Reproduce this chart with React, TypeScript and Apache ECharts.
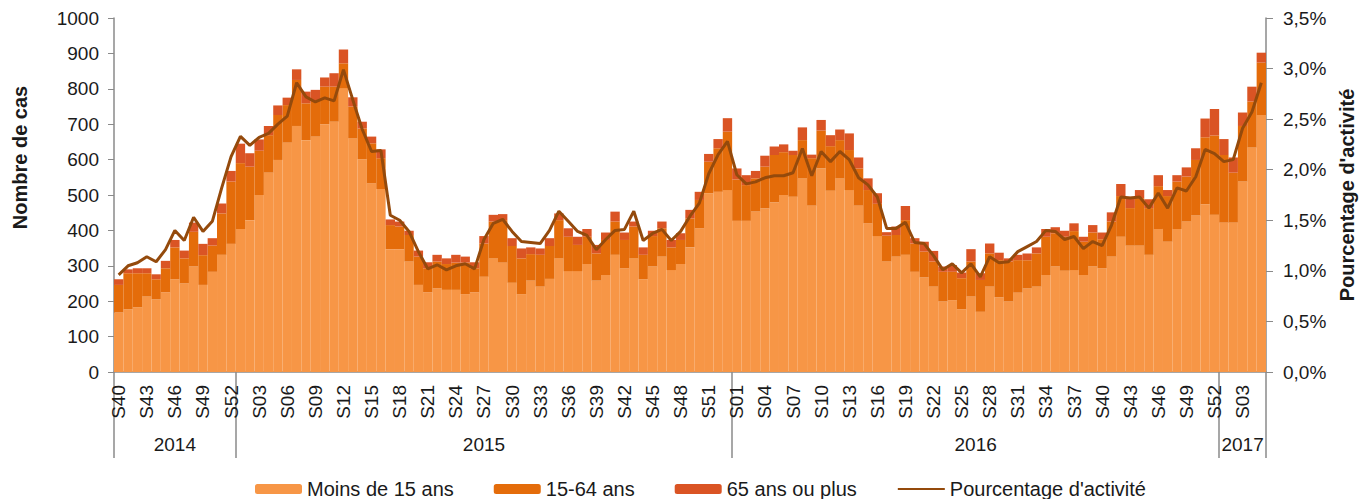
import { useEffect, useRef } from "react";
import * as echarts from "echarts";

// ---- Data -----------------------------------------------------------------
const years = [2014, 2015, 2016, 2017];
const firstWeek = [40, 1, 1, 1];
const lastWeek = [52, 53, 52, 5];

const weekLabels: string[] = [];
years.forEach((_, i) => {
  for (let w = firstWeek[i]; w <= lastWeek[i]; w++) {
    weekLabels.push("S" + String(w).padStart(2, "0"));
  }
});

const moins15 = [
  168, 177, 183, 213, 205, 225, 262, 250, 298, 246, 283, 331, 362,
  404, 429, 500, 563, 599, 648, 695, 655, 665, 700, 707, 802, 660,
  601, 533, 517, 347, 347, 312, 246, 225, 236, 232, 232, 220, 225,
  269, 321, 309, 252, 220, 258, 241, 263, 321, 285, 285, 305, 258,
  274, 331, 293, 321, 262, 298, 326, 288, 305, 352, 406, 505, 509,
  514, 427, 427, 453, 462, 479, 500, 495, 547, 470, 575, 512, 547,
  514, 470, 420, 384, 312, 326, 331, 283, 267, 241, 199, 203, 177,
  213, 170, 241, 211, 199, 224, 236, 241, 274, 298, 286, 288, 274,
  298, 293, 326, 382, 357, 357, 331, 404, 368, 404, 425, 442, 474,
  444, 422, 422, 538, 634, 726,
];

const ans15a64 = [
  78, 102, 96, 66, 57, 68, 90, 71, 98, 84, 74, 117, 176,
  186, 151, 125, 106, 127, 106, 130, 104, 103, 106, 99, 70, 90,
  87, 113, 87, 68, 64, 75, 80, 68, 76, 73, 77, 89, 68,
  94, 104, 120, 104, 101, 75, 90, 93, 108, 97, 74, 77, 77,
  99, 94, 80, 90, 69, 86, 80, 64, 68, 82, 80, 89, 123,
  165, 117, 101, 94, 118, 134, 121, 118, 108, 134, 107, 126, 108,
  113, 105, 94, 91, 73, 61, 98, 80, 73, 71, 84, 80, 88,
  99, 90, 94, 105, 113, 92, 80, 94, 108, 94, 96, 110, 94,
  96, 82, 99, 115, 106, 134, 132, 121, 129, 134, 127, 157, 189,
  224, 191, 141, 157, 130, 148,
];

const ans65plus = [
  16, 11, 14, 14, 14, 21, 21, 22, 26, 32, 21, 28, 30,
  55, 38, 32, 26, 27, 21, 30, 33, 29, 26, 38, 39, 26,
  19, 19, 25, 16, 14, 12, 17, 17, 19, 16, 22, 17, 17,
  21, 19, 17, 22, 28, 19, 18, 22, 19, 24, 23, 22, 24,
  21, 28, 21, 14, 21, 15, 19, 21, 19, 24, 23, 22, 26,
  38, 31, 28, 21, 31, 24, 22, 12, 36, 10, 30, 31, 30,
  47, 31, 33, 30, 10, 24, 40, 15, 28, 30, 15, 19, 16,
  35, 19, 28, 21, 9, 15, 19, 17, 22, 17, 17, 22, 14,
  21, 19, 26, 34, 32, 23, 25, 31, 17, 18, 26, 33, 53,
  75, 45, 43, 38, 42, 28,
];

const pctActivite = [
  0.96, 1.05, 1.08, 1.14, 1.09, 1.21, 1.40, 1.30, 1.53, 1.39, 1.49, 1.82, 2.13,
  2.33, 2.24, 2.32, 2.36, 2.45, 2.53, 2.86, 2.72, 2.67, 2.71, 2.68, 2.99, 2.69,
  2.40, 2.18, 2.19, 1.55, 1.50, 1.39, 1.19, 1.02, 1.06, 1.01, 1.05, 1.07, 1.02,
  1.31, 1.47, 1.51, 1.39, 1.29, 1.28, 1.27, 1.40, 1.59, 1.49, 1.39, 1.35, 1.21,
  1.31, 1.40, 1.41, 1.59, 1.30, 1.37, 1.41, 1.30, 1.39, 1.54, 1.67, 1.96, 2.15,
  2.28, 1.95, 1.86, 1.88, 1.92, 1.94, 1.94, 1.97, 2.21, 1.94, 2.18, 2.08, 2.18,
  2.10, 1.92, 1.85, 1.73, 1.42, 1.42, 1.48, 1.28, 1.27, 1.15, 1.01, 1.07, 0.98,
  1.07, 0.94, 1.14, 1.08, 1.09, 1.19, 1.24, 1.29, 1.40, 1.39, 1.31, 1.34, 1.22,
  1.29, 1.25, 1.45, 1.73, 1.72, 1.73, 1.62, 1.77, 1.62, 1.82, 1.79, 1.93, 2.20,
  2.16, 2.08, 2.10, 2.41, 2.57, 2.86,
];

const seriesNames = ["Moins de 15 ans", "15-64 ans", "65 ans ou plus", "Pourcentage d'activité"];

// year boundaries (in week index units) and label centres
const yearBounds: number[] = [0];
years.forEach((_, i) => yearBounds.push(yearBounds[i] + (lastWeek[i] - firstWeek[i] + 1)));
const yearCenters = years.map((_, i) => (yearBounds[i] + yearBounds[i + 1]) / 2);

const FONT = "'Liberation Sans', Arial, sans-serif";
const TEXT = "#1a1a1a";
const AXIS = "#8a8a8a";
const LINE_COLOR = "#944A0C";

export default function App() {
  const ref = useRef<HTMLDivElement>(null);

  useEffect(() => {
    if (!ref.current) return;
    const chart = echarts.init(ref.current, undefined, { renderer: "svg" });
    chart.setOption({
      animation: false,
      textStyle: { fontFamily: FONT },
      grid: { left: 114, right: 101, top: 18, bottom: 127 },
      legend: {
        data: [
          { name: seriesNames[0] },
          { name: seriesNames[1] },
          { name: seriesNames[2] },
          { name: seriesNames[3], itemStyle: { opacity: 0 } },
        ],
        left: 250,
        top: 474,
        itemWidth: 47,
        itemHeight: 10,
        itemGap: 40,
        textStyle: { fontSize: 20, color: TEXT, fontFamily: FONT },
      },
      xAxis: [
        {
          type: "category",
          data: weekLabels,
          boundaryGap: true,
          axisLine: { show: true, lineStyle: { color: AXIS, width: 1.5 } },
          axisTick: { show: false },
          axisLabel: {
            interval: 2,
            rotate: 90,
            fontSize: 19,
            color: TEXT,
            margin: 13,
            fontFamily: FONT,
          },
          splitLine: { show: false },
        },
        {
          type: "value",
          min: 0,
          max: yearBounds[yearBounds.length - 1],
          position: "bottom",
          axisLine: { show: false },
          splitLine: { show: false },
          axisTick: {
            show: true,
            customValues: yearBounds,
            length: 86,
            lineStyle: { color: AXIS, width: 1.5 },
          },
          axisLabel: {
            customValues: yearCenters,
            fontSize: 19,
            color: TEXT,
            margin: 63,
            fontFamily: FONT,
            formatter: (v: number) => {
              const i = yearCenters.findIndex((c) => Math.abs(c - v) < 0.01);
              return i >= 0 ? String(years[i]) : "";
            },
          },
        },
      ],
      yAxis: [
        {
          type: "value",
          min: 0,
          max: 1000,
          interval: 100,
          name: "Nombre de cas",
          nameLocation: "middle",
          nameRotate: 90,
          nameGap: 84,
          nameTextStyle: {
            fontSize: 20,
            fontWeight: "bold",
            color: TEXT,
            fontFamily: FONT,
            padding: [0, 0, 0, 75],
          },
          axisLine: { show: true, lineStyle: { color: AXIS, width: 1.5 } },
          axisTick: { show: true, inside: false, length: 6, lineStyle: { color: AXIS } },
          axisLabel: {
            fontSize: 19,
            color: TEXT,
            margin: 15,
            fontFamily: FONT,
            formatter: (v: number) => String(v),
          },
          splitLine: { show: false },
        },
        {
          type: "value",
          min: 0,
          max: 3.5,
          interval: 0.5,
          position: "right",
          name: "Pourcentage d'activité",
          nameLocation: "middle",
          nameRotate: 90,
          nameGap: 70,
          nameTextStyle: { fontSize: 20, fontWeight: "bold", color: TEXT, fontFamily: FONT },
          axisLine: { show: true, lineStyle: { color: AXIS, width: 1.5 } },
          axisTick: { show: true, inside: false, length: 7, lineStyle: { color: AXIS } },
          axisLabel: {
            fontSize: 19,
            color: TEXT,
            margin: 17,
            fontFamily: FONT,
            formatter: (v: number) => v.toFixed(1).replace(".", ",") + "%",
          },
          splitLine: { show: false },
        },
      ],
      series: [
        {
          name: seriesNames[0],
          type: "bar",
          stack: "cas",
          data: moins15,
          barCategoryGap: "0%",
          itemStyle: { color: "#F79646" },
        },
        {
          name: seriesNames[1],
          type: "bar",
          stack: "cas",
          data: ans15a64,
          barCategoryGap: "0%",
          itemStyle: { color: "#E46C0A" },
        },
        {
          name: seriesNames[2],
          type: "bar",
          stack: "cas",
          data: ans65plus,
          barCategoryGap: "0%",
          itemStyle: { color: "#DA5424" },
        },
        {
          name: seriesNames[3],
          type: "line",
          yAxisIndex: 1,
          data: pctActivite,
          symbol: "none",
          lineStyle: { color: LINE_COLOR, width: 3 },
          itemStyle: { color: LINE_COLOR },
          z: 5,
        },
      ],
    });
    return () => chart.dispose();
  }, []);

  return (
    <div
      ref={ref}
      style={{ position: "absolute", left: 0, top: 0, width: 1367, height: 499 }}
    />
  );
}
